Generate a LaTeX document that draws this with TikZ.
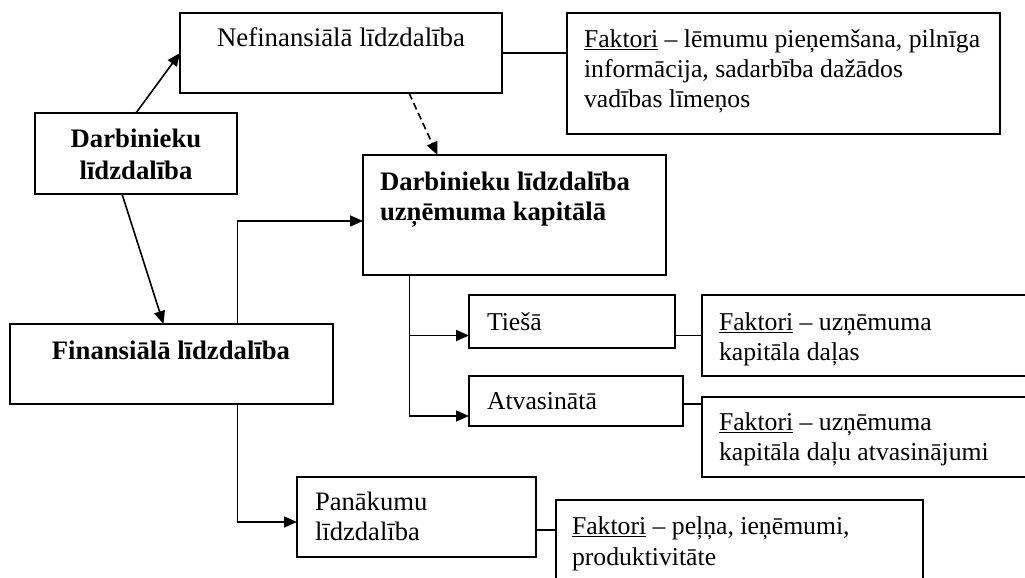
\documentclass[tikz,border=0pt]{standalone}
\usepackage{fontspec}
\setmainfont{Liberation Serif}
\usetikzlibrary{arrows.meta,calc}
\tikzset{
  box/.style={draw, line width=1.8pt, inner sep=0pt, outer sep=0pt, anchor=north west},
  txt/.style={inner sep=0pt, outer sep=0pt, font=\fontsize{25.7}{29.6}\selectfont, align=left},
  bigtxt/.style={txt, font=\fontsize{26.6}{30}\selectfont},
  btxt/.style={inner sep=0pt, outer sep=0pt, font=\fontsize{26.7}{31}\selectfont\bfseries},
  conn/.style={line width=1.8pt},
  arr/.style={line width=1.6pt, -{Triangle[length=13pt,width=11pt]}},
}
\begin{document}
\begin{tikzpicture}[x=1pt,y=-1pt]
\useasboundingbox (0,0) rectangle (1025,578);
\clip (0,0) rectangle (1025,578);
% boxes
\node[box, minimum width=322pt, minimum height=80pt] (nef) at (180,13) {};
\node[box, minimum width=433pt, minimum height=121pt] (fak1) at (567,13) {};
\node[box, minimum width=202pt, minimum height=81pt] (darb) at (35,113) {};
\node[box, minimum width=303pt, minimum height=120pt] (kap) at (363,155) {};
\node[box, minimum width=323pt, minimum height=80pt] (fin) at (10,324) {};
\node[box, minimum width=206pt, minimum height=53pt] (tie) at (469,295) {};
\node[box, minimum width=343pt, minimum height=81pt] (ft) at (702,295) {};
\node[box, minimum width=214pt, minimum height=50pt] (atv) at (469,376) {};
\node[box, minimum width=343pt, minimum height=80pt] (fa) at (702,397) {};
\node[box, minimum width=239pt, minimum height=80pt] (pan) at (297,477) {};
\node[box, minimum width=367pt, minimum height=100pt] (f3) at (556,500) {};
% texts (base anchor = baseline of the last line)
\node[bigtxt, anchor=base, font=\fontsize{26.8}{30}\selectfont] (tnef) at (341,47) {Nefinansiālā līdzdalība};
\node[txt, anchor=base west] (tfak1) at (584,107) {\underline{Faktori} – lēmumu pieņemšana, pilnīga\\informācija, sadarbība dažādos\\vadības līmeņos};
\node[btxt, anchor=base, align=center] (tdarb) at (136,179) {Darbinieku\\[1pt]līdzdalība};
\node[btxt, anchor=base west, align=left] (tkap) at (380,220) {Darbinieku līdzdalība\\[-1pt]uzņēmuma kapitālā};
\node[btxt, anchor=base] (tfin) at (171,359) {Finansiālā līdzdalība};
\node[txt, anchor=base west] (ttie) at (487,330) {Tiešā};
\node[txt, anchor=base west] (tatv) at (487,409) {Atvasinātā};
\node[txt, anchor=base west] (tft) at (719,360) {\underline{Faktori} – uzņēmuma\\kapitāla daļas};
\node[txt, anchor=base west] (tfa) at (719,460) {\underline{Faktori} – uzņēmuma\\kapitāla daļu atvasinājumi};
\node[bigtxt, anchor=base west] (tpan) at (315,540) {Panākumu\\līdzdalība};
\node[txt, anchor=base west] (tf3) at (572,565) {\underline{Faktori} – peļņa, ieņēmumi,\\[1pt]produktivitāte};
% connectors
\draw[arr] (darb.north) -- (nef.west);
\draw[arr] ([xshift=-14pt]darb.south) -- ([xshift=-8pt]fin.north);
\draw[conn] (nef.east) -- (nef.east -| fak1.west);
\draw[arr, dashed, dash pattern=on 7pt off 4pt] ([xshift=68pt]nef.south) -- ([xshift=-77pt]kap.north);
\draw[arr] ([xshift=66pt]fin.north) |- ([yshift=-6pt]kap.west);
\draw[arr] ([xshift=66pt]fin.south) |- ([yshift=-5pt]pan.west);
\coordinate (kb) at ([xshift=-105pt]kap.south);
\draw[arr] (kb) |- ([yshift=-14pt]tie.west);
\draw[arr] (kb) |- ([yshift=-15pt]atv.west);
\draw[conn] ([yshift=-14pt]tie.east) -- ([yshift=-14pt]tie.east -| ft.west);
\draw[conn] ([yshift=-3pt]atv.east) -- ([yshift=-3pt]atv.east -| fa.west);
\draw[conn] ([yshift=-13pt]pan.east) -- ([yshift=-13pt]pan.east -| f3.west);
\end{tikzpicture}
\end{document}
